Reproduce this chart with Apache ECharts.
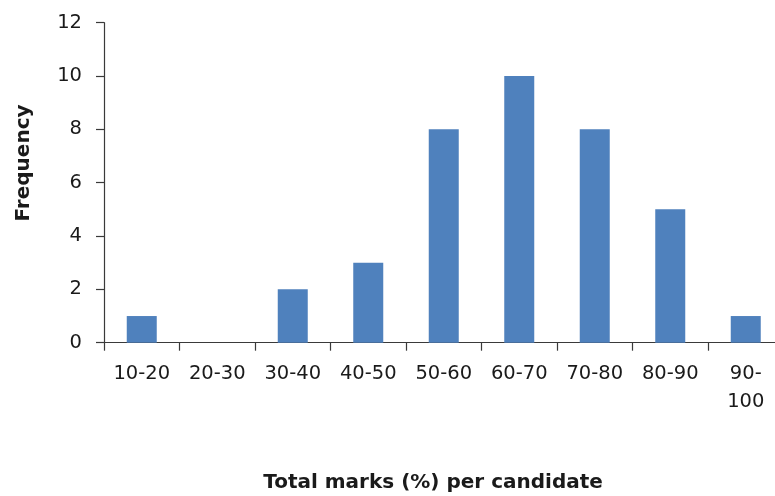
<!DOCTYPE html>
<html>
<head>
<meta charset="utf-8">
<script src="https://cdn.jsdelivr.net/npm/echarts@6/dist/echarts.min.js"></script>
<style>
  html, body { margin: 0; padding: 0; background: #fff; }
  #chart { width: 775px; height: 496px; }
</style>
</head>
<body>
<div id="chart"></div>
<script>
// Histogram of total marks per candidate
const categories = ['10-20', '20-30', '30-40', '40-50', '50-60', '60-70', '70-80', '80-90', '90-100'];
const frequency = [1, 0, 2, 3, 8, 10, 8, 5, 1];
const yTicks = { min: 0, max: 12, interval: 2 };

const xTitle = 'Total marks (%) per candidate';
const yTitle = 'Frequency';

const FONT = '"DejaVu Sans", "Liberation Sans", Arial, sans-serif';
const AXIS_COLOR = '#3a3a3a';
const TEXT_COLOR = '#1a1a1a';

const chart = echarts.init(document.getElementById('chart'), null, { renderer: 'canvas' });

chart.setOption({
  animation: false,
  backgroundColor: '#ffffff',
  grid: {
    left: 104,
    top: 22.7,
    width: 679.5,
    height: 320,
    containLabel: false,
    outerBoundsMode: 'none'
  },
  xAxis: {
    type: 'category',
    data: categories,
    axisLine: { lineStyle: { color: AXIS_COLOR, width: 1.2 } },
    axisTick: { show: true, length: 8, lineStyle: { color: AXIS_COLOR, width: 1.2 } },
    axisLabel: {
      margin: 17,
      color: TEXT_COLOR,
      fontFamily: FONT,
      fontSize: 19.5,
      lineHeight: 28,
      interval: 0,
      formatter: v => v === '90-100' ? '90-\n100' : v
    },
    splitLine: { show: false }
  },
  yAxis: {
    type: 'value',
    min: yTicks.min,
    max: yTicks.max,
    interval: yTicks.interval,
    axisLine: { show: true, lineStyle: { color: AXIS_COLOR, width: 1.2 } },
    axisTick: { show: true, length: 8, lineStyle: { color: AXIS_COLOR, width: 1.2 } },
    axisLabel: {
      margin: 22,
      color: TEXT_COLOR,
      fontFamily: FONT,
      fontSize: 19.5
    },
    splitLine: { show: false }
  },
  series: [{
    type: 'bar',
    data: frequency,
    barWidth: 30,
    itemStyle: { color: '#4F81BD' }
  }],
  graphic: [
    {
      type: 'text',
      x: 433,
      y: 483,
      style: {
        text: xTitle,
        font: 'bold 20px ' + FONT,
        fill: TEXT_COLOR,
        align: 'center',
        verticalAlign: 'middle'
      }
    },
    {
      type: 'text',
      x: 24,
      y: 163,
      rotation: Math.PI / 2,
      style: {
        text: yTitle,
        font: 'bold 20px ' + FONT,
        fill: TEXT_COLOR,
        align: 'center',
        verticalAlign: 'middle'
      }
    }
  ]
});
</script>
</body>
</html>
